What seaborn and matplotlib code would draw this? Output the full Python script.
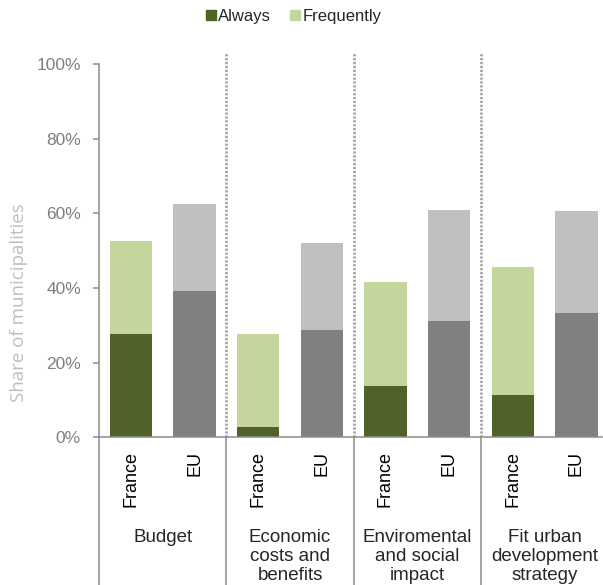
import matplotlib
matplotlib.use("Agg")
import matplotlib.pyplot as plt
import matplotlib.transforms as mtransforms
from matplotlib.lines import Line2D
import pandas as pd
import seaborn as sns

# data (share of municipalities)
groups = ["Budget", "Economic\ncosts and\nbenefits", "Enviromental\nand social\nimpact",
          "Fit urban\ndevelopment\nstrategy"]
regions = ["France", "EU"]
always = [0.277, 0.393, 0.028, 0.288, 0.138, 0.312, 0.113, 0.333]
frequently_total = [0.526, 0.625, 0.277, 0.521, 0.416, 0.610, 0.456, 0.607]

dark = {"France": "#4f6228", "EU": "#808080"}
light = {"France": "#c3d69b", "EU": "#bfbfbf"}

rows = []
for i, g in enumerate(groups):
    for j, r in enumerate(regions):
        k = 2 * i + j
        rows.append({"slot": f"{k}", "group": g, "region": r,
                     "always": always[k], "total": frequently_total[k]})
df = pd.DataFrame(rows)
order = list(df["slot"])

sns.set_style("white")
plt.rcParams["font.family"] = ["Liberation Sans", "DejaVu Sans"]

fig = plt.figure(figsize=(6.03, 5.85), dpi=100)
ax = fig.add_axes([0.1642, 0.2525, 0.834, 0.6376])

sns.barplot(data=df, x="slot", y="total", hue="region", palette=light, order=order,
            dodge=False, width=0.667, legend=False, ax=ax, saturation=1, linewidth=0)
sns.barplot(data=df, x="slot", y="always", hue="region", palette=dark, order=order,
            dodge=False, width=0.667, legend=False, ax=ax, saturation=1, linewidth=0)

ax.set_xlim(-0.5, 7.4)
ax.set_ylim(0, 1)
ax.set_yticks([0, 0.2, 0.4, 0.6, 0.8, 1.0])
ax.set_yticklabels(["0%", "20%", "40%", "60%", "80%", "100%"])
ax.set_xticks(range(8))
ax.set_xticklabels(list(df["region"]), rotation=90, va="top")
ax.set_xlabel("")
ax.set_ylabel("Share of municipalities", color="#bfbfbf", fontsize=13.5,
              family=["Open Sans", "DejaVu Sans"])
ax.yaxis.set_label_coords(-0.142, 0.36)

spine_c = "#8c8c8c"
for s in ["top", "right"]:
    ax.spines[s].set_visible(False)
for s in ["left", "bottom"]:
    ax.spines[s].set_color(spine_c)
    ax.spines[s].set_linewidth(1.1)
ax.tick_params(axis="y", direction="out", length=4, width=1.1, color=spine_c,
               labelcolor="#7f7f7f", labelsize=12.5, pad=9, left=True)
ax.tick_params(axis="x", length=0, labelsize=13, labelcolor="#000000", pad=10)

# group separators: dotted above the axis, solid below
trans = mtransforms.blended_transform_factory(ax.transData, ax.transAxes)
for xs in [1.5, 3.5, 5.5]:
    ax.add_line(Line2D([xs, xs], [0, 1.03], transform=trans, color="#a6a6a6",
                       lw=2.0, linestyle=(0, (0.8, 0.6)), clip_on=False))
for xs in [-0.5, 1.5, 3.5, 5.5]:
    ax.add_line(Line2D([xs, xs], [0, -0.45], transform=trans, color=spine_c,
                       lw=1.1, clip_on=False))

for i, g in enumerate(groups):
    ax.text(2 * i + 0.5, -0.245, g, transform=trans, ha="center", va="top",
            fontsize=13.5, linespacing=1.15)

handles = [plt.Line2D([], [], marker="s", linestyle="", markersize=7,
                      color=dark["France"], label="Always"),
           plt.Line2D([], [], marker="s", linestyle="", markersize=7,
                      color=light["France"], label="Frequently")]
fig.legend(handles=handles, loc="center", bbox_to_anchor=(0.485, 0.972), ncol=2,
           frameon=False, fontsize=12, handletextpad=0.0, columnspacing=1.0,
           handlelength=0.9)

fig.savefig("out.png", dpi=100)
